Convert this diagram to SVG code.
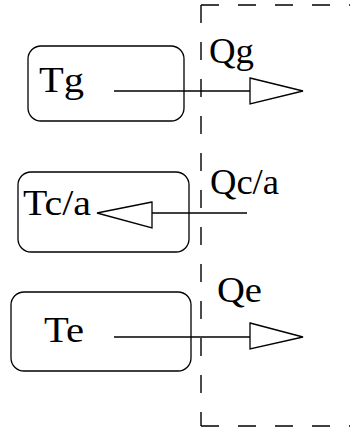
<svg xmlns="http://www.w3.org/2000/svg" width="350" height="432" viewBox="0 0 350 432">
<style>
.box{fill:none;stroke:#000;stroke-width:1.3}
.lbl{font-family:"Liberation Serif","Times New Roman",serif;font-size:36px;fill:#000}
.ln{fill:none;stroke:#000;stroke-width:1.3}
.head{fill:#fff;stroke:#000;stroke-width:1.3;stroke-linejoin:miter}
.dash{fill:none;stroke:#000;stroke-width:1.4;stroke-dasharray:18 19}
</style>
<rect width="350" height="432" fill="#fff"/>
<g id="boundary">
<path class="dash" d="M201,5 H350"/>
<path class="dash" d="M201,5 V426"/>
<path class="dash" d="M201,426 H350"/>
</g>
<g id="node-tg">
<rect class="box" x="28" y="46" width="156" height="75" rx="13"/>
<text class="lbl" x="39" y="92" textLength="45" lengthAdjust="spacingAndGlyphs">Tg</text>
</g>
<g id="node-tca">
<rect class="box" x="18" y="172" width="171" height="80" rx="13"/>
<text class="lbl" x="23" y="215" textLength="68" lengthAdjust="spacingAndGlyphs">Tc/a</text>
</g>
<g id="node-te">
<rect class="box" x="11" y="292" width="180" height="79" rx="13"/>
<text class="lbl" x="44" y="342" textLength="40" lengthAdjust="spacingAndGlyphs">Te</text>
</g>
<g id="connectors">
<line class="ln" x1="114" y1="91" x2="250" y2="91"/>
<polygon class="head" points="250,78 303,91 250,104"/>
<text class="lbl" x="209" y="63" textLength="45" lengthAdjust="spacingAndGlyphs">Qg</text>
<line class="ln" x1="152" y1="213" x2="247" y2="213"/>
<polygon class="head" points="152,202 97,213 152,228"/>
<text class="lbl" x="210" y="194" textLength="69" lengthAdjust="spacingAndGlyphs">Qc/a</text>
<line class="ln" x1="114" y1="337" x2="250" y2="337"/>
<polygon class="head" points="250,323 303,337 250,349"/>
<text class="lbl" x="217" y="302" textLength="45" lengthAdjust="spacingAndGlyphs">Qe</text>
</g>
</svg>
